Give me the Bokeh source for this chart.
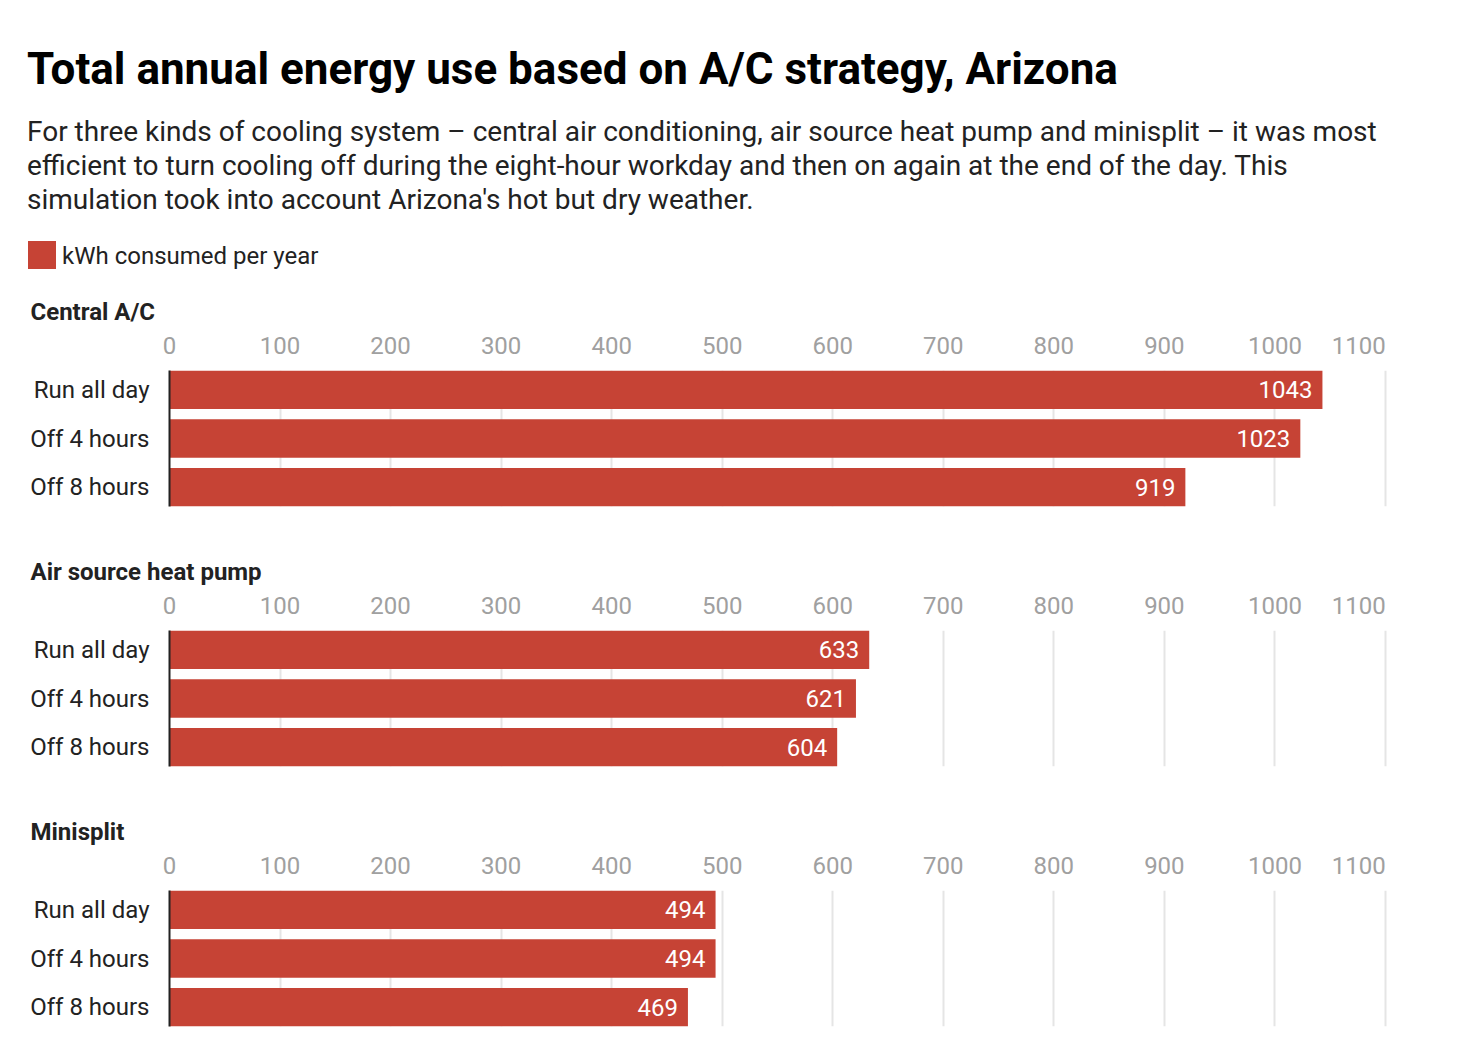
from bokeh.plotting import figure
from bokeh.models import ColumnDataSource, FactorRange, Range1d, FixedTicker, Div, Title
from bokeh.layouts import column
from bokeh.embed import file_html
from bokeh.resources import INLINE
from bokeh.core.properties import value

# ---- data ----
strategies = ["Run all day", "Off 4 hours", "Off 8 hours"]
systems = ["Central A/C", "Air source heat pump", "Minisplit"]
central_ac = [1043, 1023, 919]
heat_pump = [633, 621, 604]
minisplit = [494, 494, 469]
tick_values = [0, 100, 200, 300, 400, 500, 600, 700, 800, 900, 1000, 1100]
series_name = "kWh consumed per year"

title_text = "Total annual energy use based on A/C strategy, Arizona"
subtitle_text = ("For three kinds of cooling system \u2013 central air conditioning, air source heat pump "
                 "and minisplit \u2013 it was most efficient to turn cooling off during the eight-hour "
                 "workday and then on again at the end of the day. This simulation took into account "
                 "Arizona's hot but dry weather.")

BAR = "#c64335"
FONT = "Roboto"
W = 1440
HEADER_H = 282
ABOVE = 80      # title + top axis
FRAME_H = 134

header = Div(width=W, height=HEADER_H, text=f"""
<div style="position:relative;width:{W}px;height:{HEADER_H}px;font-family:{FONT};">
  <div style="position:absolute;left:22px;top:38px;font-size:44px;font-weight:700;line-height:52px;color:#000;white-space:nowrap;">{title_text}</div>
  <div style="position:absolute;left:22px;top:110px;width:1380px;font-size:28px;line-height:34px;color:#222;">{subtitle_text}</div>
  <div style="position:absolute;left:23px;top:236px;width:28px;height:28px;background:{BAR};"></div>
  <div style="position:absolute;left:57px;top:236px;font-size:24px;line-height:30px;color:#222;white-space:nowrap;">{series_name}</div>
</div>
""")


def panel(name, vals, bottom):
    src = ColumnDataSource(dict(cat=strategies, val=vals, lab=[str(v) for v in vals]))
    yr = FactorRange(factors=list(reversed(strategies)), range_padding=-0.105,
                     range_padding_units="absolute")
    p = figure(width=W, height=ABOVE + FRAME_H + bottom, y_range=yr, x_range=Range1d(0, 1110),
               x_axis_location="above", output_backend="svg", toolbar_location=None,
               min_border_left=169, min_border_right=44, min_border_top=0,
               min_border_bottom=bottom)
    p.title = Title(text=name, align="left", offset=-139, standoff=6, text_font=FONT,
                    text_font_size="24px", text_font_style="bold", text_color="#222")
    p.outline_line_color = None
    p.hbar(y="cat", left=0, right="val", height=0.79, source=src, color=BAR, line_color=None)
    p.text(x="val", y="cat", text="lab", source=src, x_offset=-10, text_align="right",
           text_baseline="middle", text_color="white", text_font=value(FONT),
           text_font_size="24px")
    xa = p.xaxis[0]
    xa.ticker = FixedTicker(ticks=tick_values)
    xa.axis_line_color = None
    xa.major_tick_line_color = None
    xa.minor_tick_line_color = None
    xa.major_label_text_font = FONT
    xa.major_label_text_font_size = "24px"
    xa.major_label_text_color = "#a0a0a0"
    xa.major_label_standoff = 5
    # last tick label sits to the left of its gridline, as in the original
    last = tick_values[-1]
    xa.major_label_overrides = {last: str(last) + "\u00a0" * 9}
    ya = p.yaxis[0]
    ya.axis_line_color = "#222"
    ya.axis_line_width = 2
    ya.major_tick_line_color = None
    ya.minor_tick_line_color = None
    ya.major_label_text_font = FONT
    ya.major_label_text_font_size = "24px"
    ya.major_label_text_color = "#222"
    ya.major_label_standoff = 14
    p.ygrid.grid_line_color = None
    p.xgrid.grid_line_color = "#e5e5e5"
    p.xgrid.grid_line_width = 2
    p.xgrid.ticker = FixedTicker(ticks=tick_values)
    return p


p1 = panel(systems[0], central_ac, 46)
p2 = panel(systems[1], heat_pump, 46)
p3 = panel(systems[2], minisplit, 12)

layout = column(header, p1, p2, p3, spacing=0)
open("out.html", "w").write(file_html(layout, INLINE))
